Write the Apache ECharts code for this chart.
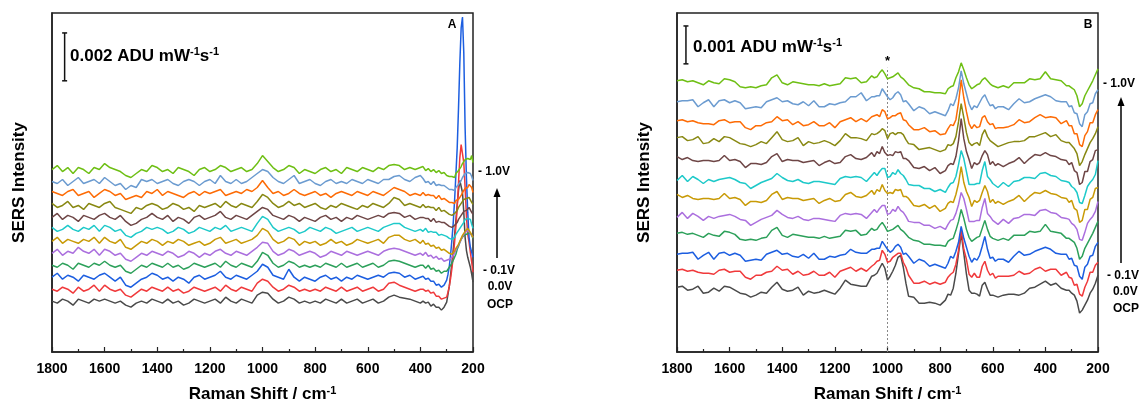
<!DOCTYPE html>
<html><head><meta charset="utf-8">
<script src="https://cdn.jsdelivr.net/npm/echarts@6/dist/echarts.min.js"></script>
<style>html,body{margin:0;padding:0;background:#fff}#c{width:1139px;height:408px}</style>
</head><body><div id="c"></div>
<script>
// ---------- categories ----------
const potentials = ['OCP','0.0V','-0.1V','-0.2V','-0.3V','-0.4V','-0.5V','-0.6V','-0.7V','-0.8V','-0.9V','-1.0V'];
const colors = ['#4a4a4a','#f0393b','#1c5ee0','#2ca05a','#ab6fde','#c89a06','#1dc9c9','#6e4646','#888812','#fd6b05','#6b9bd0','#6ebf14'];
const xTicks = [200,400,600,800,1000,1200,1400,1600,1800];

// ---------- Raman shift grids (cm-1) ----------
const shiftA = [1800,1780,1760,1740,1720,1700,1680,1660,1640,1620,
1600,1580,1560,1540,1520,1500,1480,1460,1440,1420,
1400,1380,1360,1340,1320,1300,1280,1260,1240,1220,
1200,1180,1160,1140,1120,1100,1080,1060,1040,1020,
1000,980,960,940,920,900,880,860,840,820,
800,780,760,740,720,700,680,660,640,620,
600,580,560,540,520,500,480,460,440,420,
400,
390,380,370,360,350,340,330,320,310,300,
295,290,285,280,275,270,265,260,255,250,245,240,235,230,225,220,215,210,205,200];

const shiftB = [1800,1780,1760,1740,1720,1700,1680,1660,1640,1620,1600,1580,1560,1540,1520,1500,1480,1460,1440,1420,1400,1380,1360,1340,1320,1300,1280,1260,1240,1220,1200,1180,1160,1140,1120,1100,1080,1060,
1050,1040,1030,1020,1010,1000,990,980,970,960,950,940,930,
920,900,880,860,840,820,800,780,
770,760,750,740,730,720,710,700,690,680,670,660,650,640,630,620,610,600,590,
580,560,540,520,500,480,460,440,420,400,380,360,340,320,
310,300,290,280,270,260,250,240,230,220,210,200];

// ---------- Panel A intensities (offset-stacked, a.u.) ----------
const A_OCP = [51,49,53,51,47,53,51,49,53,51, 53,51,49,51,47,45,49,51,49,53, 51,49,53,49,51,47,49,53,51,49, 51,53,49,55,51,49,53,51,49,57, 60,59,53,49,51,55,53,49,51,49, 51,49,53,51,49,53,49,51,53,49, 51,53,49,51,55,57,55,54,53,51, 49,
51,49,50,46,48,45,45,42,45,50,
58,66,78,90,103,117,132,148,162,172,170,160,140,115,102,95,90,85,78,70];
const A_0V = [63,61,65,63,59,65,61,63,67,61, 67,63,61,63,57,55,59,63,61,65, 63,61,65,61,63,59,61,65,63,61, 63,65,61,67,63,61,65,63,61,69, 73,71,65,61,63,67,65,61,63,61, 63,61,65,63,61,65,61,63,65,61, 63,65,61,63,69,70,67,65,63,61, 63,
63,61,62,59,60,56,56,53,54,55,
60,66,74,84,96,110,126,145,170,195,208,208,190,165,136,118,110,100,90,80];
const A_m01 = [75,79,73,77,75,71,77,75,73,77, 79,75,71,75,67,65,69,73,75,79, 77,73,75,71,75,73,69,75,77,73, 75,77,81,75,73,77,75,73,77,81, 88,85,77,75,73,83,75,71,75,73, 71,75,77,73,75,71,75,73,77,75, 73,75,77,75,79,80,79,75,77,73, 75,
76,73,74,71,71,67,68,65,67,72,
78,86,98,113,130,152,178,205,245,290,325,336,300,225,175,140,115,105,100,95];
const A_m02 = [87,85,89,87,83,89,87,85,89,87, 91,87,85,87,81,79,83,87,85,89, 87,85,89,85,87,83,85,89,87,85, 87,89,85,91,87,85,89,87,85,91, 100,97,89,85,87,91,89,85,87,85, 87,85,89,87,85,89,85,87,89,85, 87,89,85,87,91,92,91,89,87,85, 87,
87,84,87,83,84,81,82,79,81,81,
82,85,86,89,91,95,98,103,106,110,113,115,117,118,118,119,120,118,117,114];
const A_m03 = [99,103,97,101,99,105,101,99,103,97, 103,101,97,99,93,91,95,99,97,101, 99,97,101,99,95,97,101,99,95,99, 97,101,103,99,97,101,99,97,101,105, 110,109,101,97,99,103,101,97,99,101, 99,95,97,101,99,97,101,99,97,99, 101,99,97,101,103,104,103,101,99,97, 99,
97,100,96,97,94,96,93,94,91,92,
91,93,92,95,96,99,101,105,107,110,113,116,118,120,121,122,121,119,118,115];
const A_m04 = [111,115,109,113,111,109,113,111,115,109, 115,111,109,113,105,103,107,111,109,113, 111,107,111,109,113,111,107,109,111,107, 109,113,115,109,111,113,109,111,113,117, 124,121,113,109,111,115,113,107,111,109, 111,107,109,113,109,111,107,109,113,111, 109,111,113,109,115,117,117,113,111,113, 109,
112,108,109,106,107,104,105,102,103,101,
101,99,101,98,100,101,104,105,108,111,114,117,119,121,123,124,122,120,118,115];
const A_m05 = [125,121,123,127,123,121,125,123,127,121, 127,125,121,123,117,115,119,121,125,123, 125,123,119,121,125,123,119,121,125,123, 121,125,123,127,121,123,125,123,121,129, 136,133,125,121,123,125,123,119,121,125, 123,121,125,123,119,121,123,125,121,123, 125,123,121,125,127,129,129,125,123,121, 123,
121,124,120,121,120,120,117,118,117,116,
117,114,116,113,115,115,118,119,122,124,126,128,130,133,135,134,136,133,128,124];
const A_m06 = [135,139,133,137,135,131,137,135,133,137, 139,135,133,137,131,127,129,133,135,139, 135,133,137,131,135,133,129,135,137,133, 135,137,141,135,133,137,135,133,137,141, 145,143,137,135,133,137,135,131,135,133, 131,135,137,133,135,131,135,133,137,135, 133,135,137,135,139,140,139,135,137,133, 135,
135,134,134,131,134,130,131,130,130,128,
129,126,128,125,127,127,129,130,133,135,137,139,141,143,142,144,145,143,140,138];
const A_m07 = [149,145,147,151,145,147,143,149,147,145, 149,151,145,143,141,139,145,143,147,149, 147,143,145,149,147,143,145,141,147,145, 147,149,145,151,147,145,149,147,145,151, 158,155,149,145,147,151,147,149,145,147, 149,145,143,147,145,149,147,145,143,147, 145,149,147,145,149,155,153,147,149,147, 145,
148,145,146,145,145,142,145,141,142,140,
141,138,140,137,139,139,141,142,145,147,149,151,153,155,154,156,155,153,150,148];
const A_m08 = [161,159,157,161,163,157,159,161,155,159, 163,161,157,159,153,155,157,155,161,159, 163,157,161,159,157,155,159,161,157,161, 159,161,163,157,159,161,159,163,161,165, 172,165,159,161,157,159,163,159,157,159, 161,157,159,155,159,161,159,157,161,159, 157,161,159,157,161,165,163,161,157,159, 157,
160,157,158,157,157,154,157,153,154,152,
153,150,151,150,150,149,152,150,153,155,157,160,162,164,166,165,168,170,165,160];
const A_m09 = [171,169,173,167,171,175,169,171,173,169, 175,171,167,169,163,167,165,173,171,173, 169,171,173,169,167,171,173,171,167,171, 173,169,177,171,169,173,169,171,175,179, 183,181,175,171,169,173,177,169,171,173, 169,167,171,173,169,171,169,173,171,169, 173,171,169,173,173,176,177,173,171,175, 177,
174,170,171,168,171,167,168,167,167,165,
166,163,164,163,163,162,165,165,168,170,172,175,177,179,178,180,181,179,176,172];
const A_m10 = [183,187,181,185,179,185,183,179,185,183, 189,185,183,181,177,175,179,183,181,187, 185,181,183,179,185,183,181,177,183,185, 181,183,187,185,181,183,185,181,183,189, 197,191,185,181,183,187,185,179,183,181, 179,183,185,181,183,179,185,183,181,185, 183,181,185,183,187,188,187,183,185,183, 185,
186,182,184,181,183,180,182,179,180,177,
179,176,177,176,176,175,179,178,182,183,186,189,191,193,192,194,195,193,197,190];

// ---------- Panel B intensities (offset-stacked, a.u.) ----------
const B_OCP = [65,66,62,63,66,59,60,64,61,66,65,62,59,58,55,57,60,59,65,70,63,61,62,65,57,61,59,60,62,60,58,64,72,68,67,66,66,76,
77,79,84,89,84,72,76,81,87,95,97,85,69,
56,55,49,49,50,49,47,52,
58,57,64,79,99,119,99,78,62,59,59,58,56,67,70,63,57,57,56,
55,57,58,58,57,59,64,65,68,71,67,69,64,62,
62,59,57,51,39,42,47,52,59,63,69,77];
const B_0V = [82,83,81,82,80,79,79,78,82,83,80,81,81,75,73,77,77,80,81,86,82,83,78,81,77,78,81,77,77,80,75,81,83,85,81,84,81,86,
88,91,92,102,98,90,91,95,97,99,99,90,85,
77,69,69,71,68,70,68,70,
75,78,80,88,102,123,103,93,78,75,79,75,75,86,91,82,77,79,74,
76,76,76,77,81,78,79,83,85,81,83,83,77,80,
75,74,67,68,58,56,65,71,80,80,87,90];
const B_m01 = [98,99,99,100,93,97,100,93,99,100,97,99,97,91,92,93,92,98,100,102,98,99,96,95,98,94,99,93,93,96,95,97,98,103,100,99,99,103,
103,104,104,111,107,103,100,102,106,108,105,98,99,
96,89,93,91,86,88,86,84,
89,96,94,101,110,126,114,105,96,90,94,92,97,106,116,103,94,95,91,
93,93,90,96,101,97,98,101,103,105,103,99,98,98,
93,94,87,86,76,73,85,88,96,97,106,110];
const B_m02 = [119,120,118,119,117,115,119,117,116,121,120,118,113,112,113,112,114,115,122,125,117,115,118,117,116,115,115,114,116,114,115,116,122,121,122,117,118,124,
122,123,127,130,126,121,122,123,125,127,123,121,118,
115,112,111,108,108,107,107,106,
111,113,114,122,131,143,134,123,115,111,113,115,116,124,132,123,116,114,113,
112,114,112,117,117,117,121,120,121,128,121,120,119,114,
114,112,110,104,93,96,104,109,114,119,125,131];
const B_m03 = [135,140,134,139,136,132,136,134,136,137,138,136,133,132,127,130,133,135,137,142,138,135,134,136,133,132,134,134,133,132,131,137,139,138,139,138,134,140,
143,140,144,147,147,138,139,143,141,146,142,140,136,
131,130,130,127,127,124,126,123,
128,132,133,139,148,160,154,143,131,131,131,132,132,145,154,139,136,132,130,
128,133,129,134,135,138,138,137,142,143,140,139,135,134,
133,129,127,123,113,112,120,129,133,136,141,151];
const B_m04 = [158,155,157,154,153,154,154,153,154,159,154,155,153,147,151,151,150,152,158,161,153,155,154,154,152,153,154,149,152,154,151,152,158,160,156,155,157,162,
158,163,161,168,162,159,160,159,163,162,163,156,156,
154,147,146,148,144,147,141,144,
149,151,150,158,169,186,170,161,155,146,152,150,152,160,167,161,150,153,149,
151,148,151,153,157,151,156,160,159,162,159,158,155,154,
150,152,144,142,130,132,143,143,153,155,164,165];
const B_m05 = [172,177,171,176,173,169,173,171,173,174,175,173,170,169,164,167,170,172,174,179,175,172,171,173,170,169,171,171,170,169,168,174,176,175,176,175,171,177,
180,177,181,184,184,175,176,180,178,183,179,177,173,
168,167,167,164,164,161,163,160,
165,169,170,176,188,202,194,181,168,168,168,169,169,182,191,176,173,169,167,
165,170,166,171,172,175,175,174,179,180,177,176,172,171,
170,166,164,160,150,149,157,166,170,173,178,192];
const B_m06 = [196,193,195,192,191,192,192,191,192,197,192,193,191,185,189,189,188,190,196,199,191,193,192,192,190,191,192,187,190,192,189,190,196,198,194,193,195,200,
196,201,199,206,200,197,198,197,201,200,201,194,194,
192,185,184,186,182,185,179,182,
187,189,188,196,212,234,214,201,193,184,190,188,190,197,202,198,188,191,187,
189,186,189,191,195,189,194,198,197,200,197,196,193,192,
188,190,182,180,168,170,181,181,191,193,202,203];
const B_m07 = [215,216,212,213,216,209,210,214,211,216,215,212,209,208,206,208,211,209,215,221,213,211,212,215,207,211,209,210,212,210,207,212,219,215,215,214,212,219,
218,219,221,224,222,214,219,220,218,220,220,218,213,
209,208,203,204,205,203,201,203,
208,207,209,216,231,249,235,220,210,207,209,210,207,218,223,216,212,210,208,
206,208,210,211,211,212,216,216,218,220,216,218,212,210,
210,207,204,199,187,191,198,204,210,214,219,226];
const B_m08 = [232,233,231,232,230,229,229,228,232,233,230,231,231,225,223,227,227,230,231,236,232,233,228,231,227,228,231,227,227,230,225,231,233,235,231,234,231,236,
237,238,236,243,241,234,235,237,237,239,240,233,232,
228,223,223,225,221,222,218,219,
224,228,227,233,250,273,255,241,229,224,228,225,226,235,237,231,228,229,224,
225,225,226,228,233,230,231,235,238,235,236,235,229,232,
227,227,219,219,208,206,217,221,230,230,238,243];
const B_m09 = [251,252,252,253,246,250,253,246,252,253,250,252,250,244,245,246,245,251,253,255,251,252,249,248,251,247,252,246,246,249,248,250,251,256,256,260,252,256,
256,257,257,264,260,256,253,255,259,261,258,251,252,
249,242,246,244,239,241,239,237,
242,249,247,254,265,282,269,259,249,243,247,245,250,255,258,252,247,248,244,
246,246,243,249,254,250,251,254,256,258,256,252,251,251,
246,247,240,239,229,226,238,241,249,250,259,263];
const B_m10 = [272,273,271,272,270,268,272,270,269,274,273,271,266,265,266,265,267,268,275,278,270,268,271,270,269,268,268,267,269,267,268,269,275,274,275,270,271,277,
275,276,280,283,279,274,275,276,278,280,276,274,271,
268,265,264,261,261,260,260,259,
264,266,267,275,281,290,283,275,268,264,266,268,269,273,275,272,269,267,266,
265,267,265,270,270,270,274,273,274,281,274,273,272,267,
267,265,263,257,246,249,257,262,267,272,278,284];

const seriesA = [A_OCP,A_0V,A_m01,A_m02,A_m03,A_m04,A_m05,A_m06,A_m07,A_m08,A_m09,A_m10];
const seriesB = [B_OCP,B_0V,B_m01,B_m02,B_m03,B_m04,B_m05,B_m06,B_m07,B_m08,B_m09,B_m10];

// scale bars: [shift, lower intensity, upper intensity]
const scaleBarA = [1752, 272, 320];   // = 0.002 ADU mW-1 s-1
const scaleBarB = [1766, 289, 327];   // = 0.001 ADU mW-1 s-1
const markerB = [1000, 0, 285, 291];  // dotted guide at 1000 cm-1 with asterisk

// ---------- chart ----------
const FONT = '"Liberation Sans", Arial, Helvetica, sans-serif';
const chart = echarts.init(document.getElementById('c'), null, {renderer:'canvas'});

function richTxt(size, sup) {
  return {
    t:{fontSize:size, fontWeight:'bold', fontFamily:FONT, color:'#000', lineHeight:size+2},
    s:{fontSize:sup, fontWeight:'bold', fontFamily:FONT, color:'#000', verticalAlign:'top', lineHeight:size+2}
  };
}

function makeX(gi) {
  return {
    gridIndex:gi, type:'value', min:200, max:1800, interval:200, inverse:true,
    axisLine:{show:true, onZero:false, lineStyle:{color:'#222', width:1.5}},
    axisTick:{show:true, inside:true, length:5, lineStyle:{color:'#222', width:1.2}},
    minorTick:{show:true, splitNumber:2, length:3, lineStyle:{color:'#222', width:1.2}},
    splitLine:{show:false},
    axisLabel:{color:'#000', fontSize:14, fontWeight:'bold', fontFamily:FONT, margin:10,
      formatter:v => (xTicks.indexOf(v) >= 0 ? String(v) : '')},
    name:'{t|Raman Shift / cm}{s|-1}', nameLocation:'middle', nameGap:33,
    nameTextStyle:{rich:richTxt(17,11)}
  };
}
function makeY(gi) {
  return {
    gridIndex:gi, type:'value', min:0, max:340,
    axisLine:{show:true, lineStyle:{color:'#222', width:1.5}},
    axisTick:{show:false}, axisLabel:{show:false}, splitLine:{show:false},
    name:'SERS Intensity', nameLocation:'middle', nameGap:24,
    nameTextStyle:{fontSize:17, fontWeight:'bold', fontFamily:FONT, color:'#000'}
  };
}

const series = [];
function addSpectra(list, shifts, gi) {
  list.forEach((vals, k) => {
    series.push({
      type:'line', name:potentials[k]+(gi?' B':' A'), xAxisIndex:gi, yAxisIndex:gi,
      data: shifts.map((x,i)=>[x, vals[i]]),
      showSymbol:false, symbol:'none', smooth:false, clip:true,
      lineStyle:{color:colors[k], width:1.5}, itemStyle:{color:colors[k]},
      silent:true, animation:false, z:2+k
    });
  });
}
addSpectra(seriesA, shiftA, 0);
addSpectra(seriesB, shiftB, 1);

function scaleBarSeries(bar, gi) {
  return {
    type:'custom', xAxisIndex:gi, yAxisIndex:gi, data:[bar], silent:true, animation:false, z:20,
    renderItem:(p, api) => {
      const a = api.coord([api.value(0), api.value(1)]);
      const b = api.coord([api.value(0), api.value(2)]);
      const st = {stroke:'#111', lineWidth:1.5};
      return {type:'group', children:[
        {type:'line', shape:{x1:a[0], y1:a[1], x2:b[0], y2:b[1]}, style:st},
        {type:'line', shape:{x1:a[0]-2.5, y1:a[1], x2:a[0]+2.5, y2:a[1]}, style:st},
        {type:'line', shape:{x1:b[0]-2.5, y1:b[1], x2:b[0]+2.5, y2:b[1]}, style:st}
      ]};
    }
  };
}
series.push(scaleBarSeries(scaleBarA, 0));
series.push(scaleBarSeries(scaleBarB, 1));
series.push({
  type:'custom', xAxisIndex:1, yAxisIndex:1, data:[markerB], silent:true, animation:false, z:1,
  renderItem:(p, api) => {
    const a = api.coord([api.value(0), api.value(1)]);
    const b = api.coord([api.value(0), api.value(2)]);
    const s = api.coord([api.value(0), api.value(3)]);
    return {type:'group', children:[
      {type:'line', shape:{x1:a[0], y1:a[1], x2:b[0], y2:b[1]}, style:{stroke:'#888', lineWidth:1, lineDash:[2,2]}},
      {type:'text', x:s[0], y:s[1], style:{text:'*', fill:'#000', font:'bold 13px '+FONT, textAlign:'center', textVerticalAlign:'middle'}}
    ]};
  }
});

function txt(x, y, text, size, align) {
  return {type:'text', x:x, y:y, silent:true, z:30,
    style:{text:text, fill:'#000', font:'bold '+size+'px '+FONT, textAlign:align||'left', textVerticalAlign:'middle'}};
}
function richLabel(x, y, text) {
  return {type:'text', x:x, y:y, silent:true, z:30,
    style:{text:text, rich:richTxt(17,11), textAlign:'left', textVerticalAlign:'middle'}};
}
function arrow(x, y0, y1) {
  return [
    {type:'line', silent:true, shape:{x1:x, y1:y0, x2:x, y2:y1+6}, style:{stroke:'#000', lineWidth:1.5}},
    {type:'polygon', silent:true, shape:{points:[[x, y1],[x-3.5, y1+9],[x+3.5, y1+9]]}, style:{fill:'#000'}}
  ];
}

const graphic = [
  richLabel(70, 56, '{t|0.002 ADU mW}{s|-1}{t|s}{s|-1}'),
  richLabel(693, 47, '{t|0.001 ADU mW}{s|-1}{t|s}{s|-1}'),
  txt(452, 25, 'A', 12, 'center'),
  txt(1088, 25, 'B', 12, 'center'),
  txt(478, 172, '- 1.0V', 12, 'left'),
  txt(499, 271, '- 0.1V', 12, 'center'),
  txt(500, 287, '0.0V', 12, 'center'),
  txt(500, 305, 'OCP', 12, 'center'),
  ...arrow(497, 258, 188),
  txt(1103, 84, '- 1.0V', 12, 'left'),
  txt(1107, 276, '- 0.1V', 12, 'left'),
  txt(1113, 292, '0.0V', 12, 'left'),
  txt(1113, 309, 'OCP', 12, 'left'),
  ...arrow(1121, 263, 97)
];

chart.setOption({
  animation:false,
  backgroundColor:'#fff',
  grid:[
    {left:52, top:13, width:421, height:340, show:true, borderColor:'#222', borderWidth:1.5, backgroundColor:'transparent'},
    {left:677, top:13, width:421, height:340, show:true, borderColor:'#222', borderWidth:1.5, backgroundColor:'transparent'}
  ],
  xAxis:[makeX(0), makeX(1)],
  yAxis:[makeY(0), makeY(1)],
  series:series,
  graphic:graphic
});
</script>
</body></html>
